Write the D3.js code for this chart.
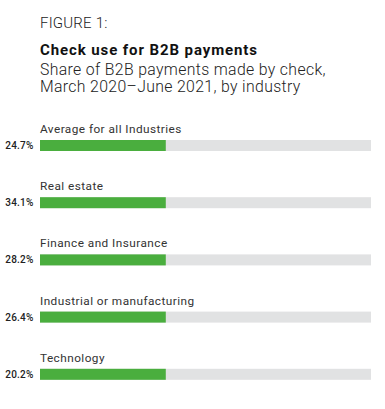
<!DOCTYPE html>
<html>
<head>
<meta charset="utf-8">
<script src="https://cdn.jsdelivr.net/npm/d3@7"></script>
<style>
  body { margin: 0; background: #fff; }
  svg { display: block; }
  .fig-label { font-family: "Roboto", sans-serif; font-weight: 300; font-size: 15px; letter-spacing: 0.2px; fill: #222; }
  .title { font-family: "Roboto", sans-serif; font-weight: 700; font-size: 15px; letter-spacing: 0.9px; fill: #111; }
  .subtitle { font-family: "Roboto", sans-serif; font-weight: 300; font-size: 15.8px; letter-spacing: 0.35px; fill: #222; }
  .cat-label { font-family: "Roboto", sans-serif; font-size: 11.8px; letter-spacing: 0.45px; fill: #333; }
  .val-label { font-family: "Roboto", sans-serif; font-weight: 500; font-size: 10px; letter-spacing: 0.2px; fill: #222; }
</style>
</head>
<body>
<div id="chart"></div>
<script>
  // values
  const categories = [
    "Average for all Industries",
    "Real estate",
    "Finance and Insurance",
    "Industrial or manufacturing",
    "Technology",
  ];
  const shares = [24.7, 34.1, 28.2, 26.4, 20.2];
  // the figure draws every green bar to the same length (~38% of the track)
  const drawnLength = [38, 38, 38, 38, 38];
  const subtitleLines = [
    "Share of B2B payments made by check,",
    "March 2020\u2013June 2021, by industry",
  ];

  const W = 385, H = 409;
  const margin = { top: 140, left: 40, right: 14 };
  const rowStep = 57.2;
  const barH = 11;

  const svg = d3.select("#chart").append("svg")
    .attr("width", W).attr("height", H);

  // header
  svg.append("text").attr("class", "fig-label")
    .attr("x", 40).attr("y", 28).text("FIGURE 1:");
  svg.append("text").attr("class", "title")
    .attr("x", 40).attr("y", 54.5).text("Check use for B2B payments");
  svg.selectAll(".subtitle").data(subtitleLines).join("text")
    .attr("class", "subtitle")
    .attr("x", 40)
    .attr("y", (d, i) => 75 + i * 17.4)
    .text((d) => d);

  const x = d3.scaleLinear().domain([0, 100]).range([margin.left, W - margin.right]);
  const y = d3.scaleBand()
    .domain(categories)
    .range([margin.top, margin.top + rowStep * categories.length])
    .paddingInner(0).paddingOuter(0);

  const rows = svg.selectAll(".row")
    .data(categories.map((c, i) => ({ cat: c, share: shares[i], len: drawnLength[i] })))
    .join("g")
    .attr("class", "row")
    .attr("transform", (d) => `translate(0,${y(d.cat)})`);

  // track
  rows.append("rect")
    .attr("x", x(0)).attr("y", 0)
    .attr("width", x(100) - x(0)).attr("height", barH)
    .attr("fill", "#e1e2e3");

  // bar
  rows.append("rect")
    .attr("x", x(0)).attr("y", 0)
    .attr("width", (d) => x(d.len) - x(0)).attr("height", barH)
    .attr("fill", "#4aae3e");

  rows.append("text").attr("class", "cat-label")
    .attr("x", x(0)).attr("y", -7)
    .text((d) => d.cat);

  rows.append("text").attr("class", "val-label")
    .attr("x", 33.5).attr("y", barH / 2 + 3.4)
    .attr("text-anchor", "end")
    .text((d) => d3.format(".1f")(d.share) + "%");
</script>
</body>
</html>
